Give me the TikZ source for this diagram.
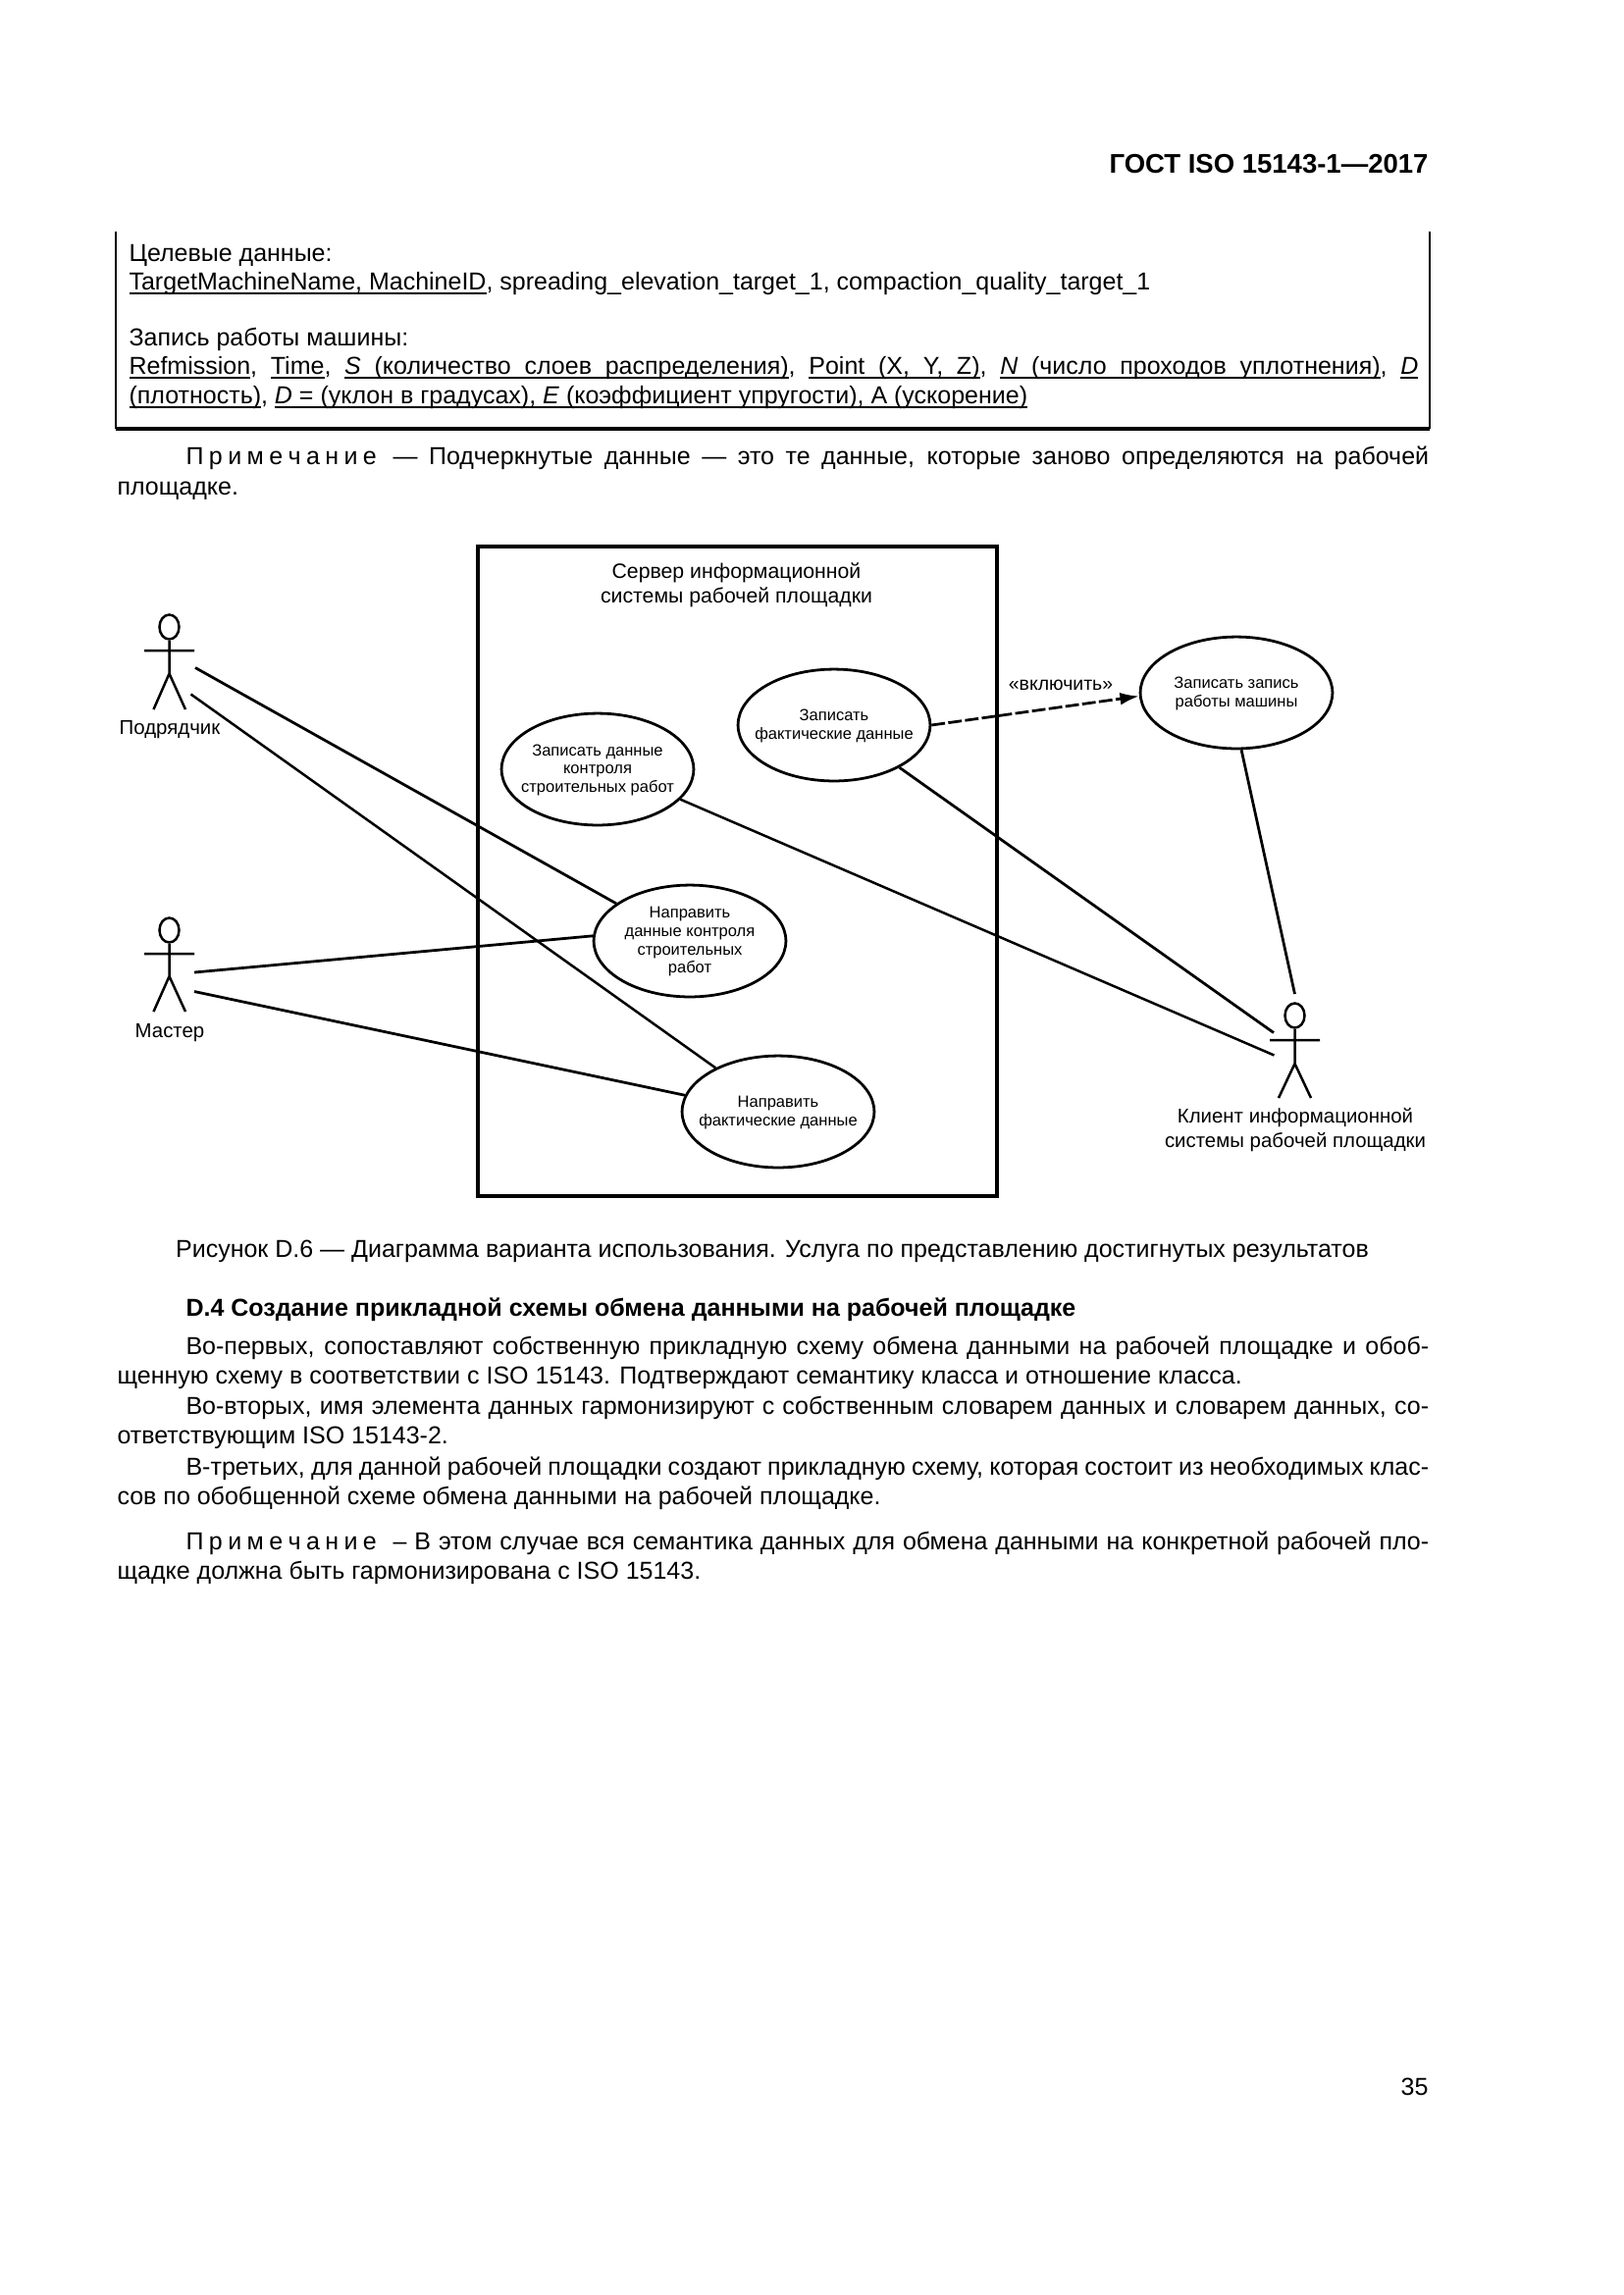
\documentclass[tikz,border=0pt]{standalone}
\usepackage{fontspec}
\setmainfont{Liberation Sans}
\usetikzlibrary{shapes.geometric,arrows.meta}
\newcommand{\bodyf}{\fontsize{9pt}{11pt}\selectfont}
\newcommand{\figf}{\fontsize{7.65pt}{9pt}\selectfont}
\newcommand{\actf}{\fontsize{7.35pt}{8.9pt}\selectfont}
\newcommand{\usef}{\fontsize{5.95pt}{6.7pt}\selectfont}
\newcommand{\jl}[1]{\makebox[456pt][s]{#1}}
\newcommand{\sg}{\kern1.95pt}
\newcommand{\primech}{П\sg р\sg и\sg м\sg е\sg ч\sg а\sg н\sg и\sg е}
\newcommand{\ul}[1]{\leavevmode\setbox0\hbox{#1}\rlap{\raisebox{-1.5pt}{\rule{\wd0}{0.6pt}}}\box0}
\newcommand{\uc}[1]{\makebox[0pt][c]{\smash{\raisebox{-1.9pt}{\begin{tabular}[c]{@{}c@{}}#1\end{tabular}}}}}
\tikzset{
  x=0.36pt,y=-0.36pt,
  usecase/.style={ellipse,draw,line width=1pt,minimum width=70.5pt,minimum height=41pt,inner sep=0pt,font=\usef},
  actorline/.style={line width=0.9pt},
  assoc/.style={line width=1pt},
  assocthin/.style={line width=0.9pt},
  body/.style={anchor=west,inner sep=0pt,font=\bodyf,text height=7pt,text depth=2pt},
  figlabel/.style={inner sep=0pt,align=center,font=\figf},
  actlabel/.style={inner sep=0pt,align=center,font=\actf},
  actorhead/.style={ellipse,draw,line width=0.9pt,minimum width=7.2pt,minimum height=9pt,inner sep=0pt},
}
\begin{document}
\begin{tikzpicture}
\useasboundingbox (0,0) rectangle (1654,2339);
\fill[white] (0,0) rectangle (1654,2339);
% header
\node[anchor=east,inner sep=0pt,font=\fontsize{9.9pt}{12pt}\selectfont\bfseries] (hdr) at (1456,167) {ГОСТ ISO 15143-1—2017};
% table fragment
\coordinate (tl) at (118,236); \coordinate (bl) at (118,437);
\coordinate (tr) at (1457,236); \coordinate (br) at (1457,437);
\draw[line width=0.7pt] (tl) -- (bl);
\draw[line width=0.7pt] (tr) -- (br);
\draw[line width=1.1pt] (bl) -- (br);
\node[body] (t1) at (131,259.5) {Целевые данные:};
\node[body] (t2) at (131,288.5) {\ul{TargetMachineName, MachineID}, spreading\_elevation\_target\_1, compaction\_quality\_target\_1};
\node[body] (t3) at (131,345.5) {Запись работы машины:};
\node[body] (t4) at (131,374.5) {\spaceskip=4.95pt \ul{Refmission}, \ul{Time}, \ul{\textit{S} (количество слоев распределения)}, \ul{Point (X, Y, Z)}, \ul{\textit{N} (число проходов уплотнения)}, \ul{\textit{D}}};
\node[body] (t5) at (131,404.5) {\ul{(плотность)}, \ul{\textit{D} = (уклон в градусах), \textit{E} (коэффициент упругости), А (ускорение)}};
\node[body] (n1) at (189,467) {\jl{\primech\hspace{6pt}— Подчеркнутые данные — это те данные, которые заново определяются на рабочей}};
\node[body] (n2) at (119,498) {площадке.};
% system box
\node[draw,line width=1.3pt,minimum width=190.4pt,minimum height=238.3pt,inner sep=0pt,anchor=north west] (sys) at (485,555) {};
\node[figlabel,anchor=center] (systitle) at (750.5,596.5) {Сервер информационной\\системы рабочей площадки};
% use cases
\node[usecase] (e1) at (609,784) {\uc{Записать данные\\контроля\\строительных работ}};
\node[usecase] (e2) at (703,959) {\uc{Направить\\данные контроля\\строительных\\работ}};
\node[usecase] (e3) at (793,1133) {\uc{Направить\\фактические данные}};
\node[usecase] (e4) at (850,739) {\uc{Записать\\фактические данные}};
\node[usecase] (e5) at (1260,706) {\uc{Записать запись\\работы машины}};
% actors
\node[actorhead] (h1) at (172.5,639) {};
\coordinate (a1l) at (147,663); \coordinate (a1r) at (198,663);
\coordinate (a1b) at (172.5,686.5);
\coordinate (a1fl) at (156.5,723); \coordinate (a1fr) at (189,723);
\draw[actorline] (h1) -- (a1b) (a1l) -- (a1r) (a1fl) -- (a1b) -- (a1fr);
\node[actlabel] (l1) at (173,743.5) {Подрядчик};
\node[actorhead] (h2) at (172.5,948) {};
\coordinate (a2l) at (147,972); \coordinate (a2r) at (198,972);
\coordinate (a2b) at (172.5,995);
\coordinate (a2fl) at (156.5,1031); \coordinate (a2fr) at (189,1031);
\draw[actorline] (h2) -- (a2b) (a2l) -- (a2r) (a2fl) -- (a2b) -- (a2fr);
\node[actlabel] (l2) at (173,1052.5) {Мастер};
\node[actorhead] (h3) at (1319.5,1035) {};
\coordinate (a3l) at (1294,1060); \coordinate (a3r) at (1345,1060);
\coordinate (a3b) at (1319.5,1084);
\coordinate (a3fl) at (1303,1119); \coordinate (a3fr) at (1336,1119);
\draw[actorline] (h3) -- (a3b) (a3l) -- (a3r) (a3fl) -- (a3b) -- (a3fr);
\node[actlabel] (l3) at (1320,1151.5) {Клиент информационной\\системы рабочей площадки};
% connector ends
\coordinate (c1a) at (199,680.5); \coordinate (c1b) at (194.5,707.5);
\coordinate (c2a) at (198,991); \coordinate (c2b) at (198,1010.5);
\coordinate (c3a) at (1319.5,1013); \coordinate (c3b) at (1298,1052.5); \coordinate (c3c) at (1298.5,1075.5);
% connectors
\draw[assoc] (c1a) -- (e2.153);
\draw[assocthin] (c1b) -- (e3.145);
\draw[assoc] (c2a) -- (e2.177);
\draw[assoc] (c2b) -- (e3.170);
\draw[assocthin] (e1.-20) -- (c3c);
\draw[assoc] (e4.-33) -- (c3b);
\draw[assoc] (e5.-85) -- (c3a);
\draw[assoc,dash pattern=on 5pt off 1.2pt,-{Latex[length=7pt,width=4.6pt]}] (e4.0) -- (e5.182);
\node[inner sep=0pt,font=\fontsize{7pt}{8pt}\selectfont] (incl) at (1081,698) {«включить»};
% caption and text
\node[inner sep=0pt,anchor=center,font=\bodyf] (cap) at (787,1275) {Рисунок D.6 — Диаграмма варианта использования. Услуга по представлению достигнутых результатов};
\node[body,font=\bodyf\bfseries] (d4) at (189,1335) {D.4 Создание прикладной схемы обмена данными на рабочей площадке};
\node[body] (p1) at (189,1374) {\jl{Во-первых, сопоставляют собственную прикладную схему обмена данными на рабочей площадке и обоб-}};
\node[body] (p2) at (119,1404) {щенную схему в соответствии с ISO 15143. Подтверждают семантику класса и отношение класса.};
\node[body] (p3) at (189,1435) {\jl{Во-вторых, имя элемента данных гармонизируют с собственным словарем данных и словарем данных, со-}};
\node[body] (p4) at (119,1465) {ответствующим ISO 15143-2.};
\node[body] (p5) at (189,1497) {\jl{В-третьих, для данной рабочей площадки создают прикладную схему, которая состоит из необходимых клас-}};
\node[body] (p6) at (119,1527) {сов по обобщенной схеме обмена данными на рабочей площадке.};
\node[body] (p7) at (189,1573) {\jl{\primech\hspace{6pt}– В этом случае вся семантика данных для обмена данными на конкретной рабочей пло-}};
\node[body] (p8) at (119,1603) {щадке должна быть гармонизирована с ISO 15143.};
\node[anchor=east,inner sep=0pt,font=\bodyf] (pg) at (1456,2127) {35};
\end{tikzpicture}
\end{document}
